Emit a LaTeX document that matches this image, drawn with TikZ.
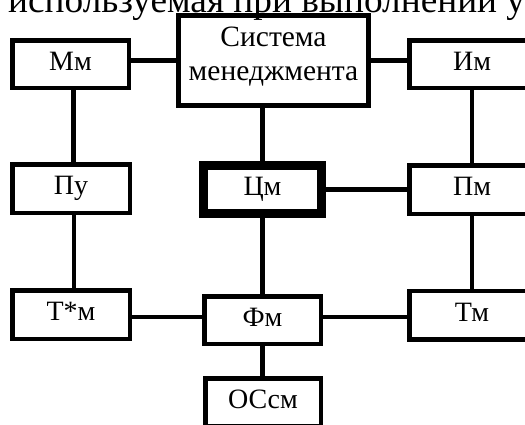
\documentclass[tikz,border=0pt]{standalone}
\usepackage{fontspec}
\setmainfont{Liberation Serif}
\begin{document}
\begin{tikzpicture}[x=1pt,y=-1pt,
  box/.style={draw, line width=4.5pt, inner sep=0pt, align=center,
    text height=19.6pt, text depth=7pt,
    font=\fontsize{28}{34}\selectfont},
  link/.style={line width=4.5pt}]
\useasboundingbox (0,0) rectangle (525,424);
\clip (0,0) rectangle (525,424);
\node[anchor=base west, inner sep=0pt, font=\fontsize{37.3}{40}\selectfont] (title) at (8,12.5) {используемая при выполнении у};
\node[draw, line width=5pt, inner sep=0pt, minimum width=190pt, minimum height=90pt] (sys) at (273.5,60.5) {};
\node[anchor=base, inner sep=0pt, align=center, font=\fontsize{29.5}{34.5}\selectfont] (systext) at (273.5,80.5) {Система\\менеджмента};
\node[box, minimum width=116.5pt, minimum height=47.5pt] (mm) at (70.5,64) {Мм};
\node[box, minimum width=117.5pt, minimum height=48.5pt] (pu) at (71,188.5) {Пу};
\node[box, minimum width=117.5pt, minimum height=48.5pt] (tsm) at (71,314.5) {Т*м};
\node[box, minimum width=125.5pt, minimum height=47.5pt] (im) at (472,64) {Им};
\node[box, minimum width=125.5pt, minimum height=48.5pt] (pm) at (472,189.5) {Пм};
\node[box, minimum width=125.5pt, minimum height=48.5pt] (tm) at (472,315) {Тм};
\node[box, line width=9pt, minimum width=118pt, minimum height=48pt] (cm) at (262.5,189.5) {Цм};
\node[box, minimum width=116.5pt, minimum height=47.5pt] (fm) at (262.5,320) {Фм};
\node[box, minimum width=115.5pt, minimum height=47.5pt] (os) at (263,402) {ОСсм};
\draw[link] (sys.west) -- (sys.west -| mm.east);
\draw[link] (sys.east) -- (sys.east -| im.west);
\draw[link] ([xshift=3pt]mm.south) -- ([xshift=3pt]mm.south |- pu.north);
\draw[link] ([xshift=3pt]pu.south) -- ([xshift=3pt]pu.south |- tsm.north);
\draw[link] (cm.north) -- (cm.north |- sys.south);
\draw[link] (cm.south) -- (cm.south |- fm.north);
\draw[link] (fm.south) -- (fm.south |- os.north);
\draw[link] (cm.east) -- (cm.east -| pm.west);
\draw[link] (im.south) -- (pm.north);
\draw[link] (pm.south) -- (tm.north);
\draw[link] ([yshift=3pt]fm.west) -- ([yshift=3pt]fm.west -| tsm.east);
\draw[link] ([yshift=3pt]fm.east) -- ([yshift=3pt]fm.east -| tm.west);
\end{tikzpicture}
\end{document}
